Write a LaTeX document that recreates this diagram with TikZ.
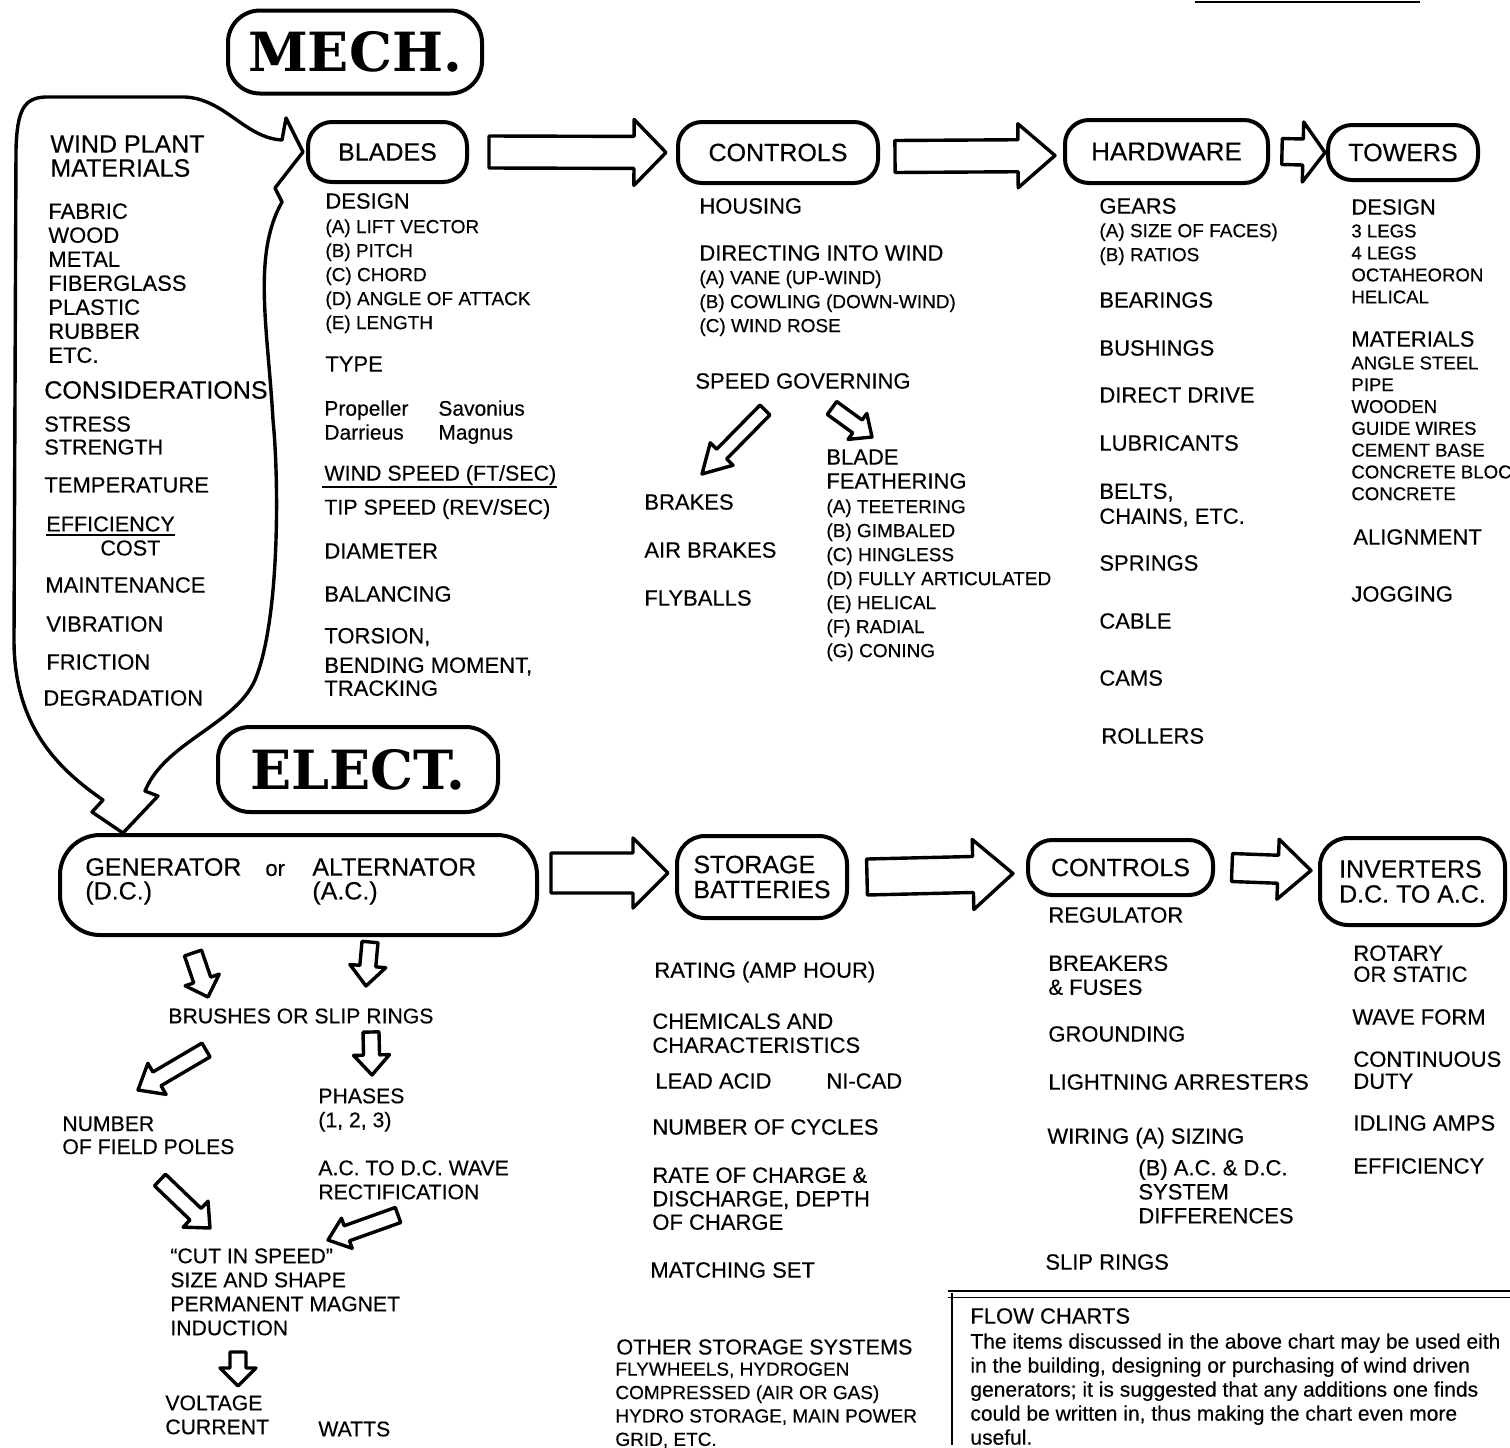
\documentclass[tikz,border=0pt]{standalone}
\usepackage{fontspec}
\setmainfont{Liberation Sans}[FakeBold=0.35]
\newfontfamily\titlefont{DejaVu Serif}
\usetikzlibrary{calc,positioning}
\newcommand\fsz[2]{\fontsize{#1}{#2}\selectfont}
% hollow block arrow: start, tip, body half width, head half width, head length
\newcommand\fatarrow[5]{%
  \coordinate (fab) at ($(#2)!#5!(#1)$);
  \draw[fat] ($(#1)!#3!90:(#2)$) -- ($(fab)!#3!90:(#2)$) -- ($(fab)!#4!90:(#2)$)
    -- (#2) -- ($(fab)!#4!-90:(#2)$) -- ($(fab)!#3!-90:(#2)$) -- ($(#1)!#3!-90:(#2)$) -- cycle;
}
\tikzset{
  box/.style={
    draw,
    line width=2pt,
    rounded corners=12pt,
    inner sep=0pt
  },
  fat/.style={
    line width=1.7pt,
    line join=round
  },
  feedline/.style={
    line width=1.7pt,
    line join=round
  },
  hd/.style={
    font=\fsz{12.5}{12.5}
  },
  ttl/.style={
    font=\titlefont\bfseries\fsz{27}{27}
  },
  itm/.style={
    anchor=west,
    inner sep=0pt,
    font=\fsz{11}{12}
  },
  blk/.style={
    anchor=north west,
    inner sep=0pt,
    align=left,
    font=\fsz{11}{12}
  },
  sml/.style={
    anchor=north west,
    inner sep=0pt,
    align=left,
    font=\fsz{9.5}{12}
  }
}
\begin{document}
\begin{tikzpicture}[x=0.5pt,y=-0.5pt]
        \useasboundingbox (0,0) rectangle (1510,1447);

        % boxes
        \node[box, ttl, minimum width=127pt, minimum height=41.5pt, rounded corners=16pt] (mech) at (355,52) {MECH.};
        \node[box, hd, minimum width=79.5pt, minimum height=30pt] (blades) at (387.5,152) {BLADES};
        \node[box, hd, minimum width=100pt, minimum height=30.5pt] (ctrl) at (778,152.5) {CONTROLS};
        \node[box, hd, font=\fsz{13}{13}, minimum width=101.5pt, minimum height=31.5pt] (hard) at (1166.5,151.5) {HARDWARE};
        \node[box, hd, minimum width=75pt, minimum height=27.5pt] (towers) at (1403,152.5) {TOWERS};
        \node[box, ttl, minimum width=140pt, minimum height=42.5pt, rounded corners=16pt] (elect) at (358,769.5) {ELECT.};
        \node[box, minimum width=238.5pt, minimum height=50pt, rounded corners=20pt] (gen) at (298.5,885) {};
        \node[box, hd, align=left, minimum width=85pt, minimum height=41pt, rounded corners=14pt] (stor) at (762,877) {STORAGE\\BATTERIES};
        \node[box, hd, minimum width=92.5pt, minimum height=27.5pt] (ctl2) at (1120.5,867.5) {CONTROLS};
        \node[box, hd, align=left, minimum width=92.5pt, minimum height=43.5pt, rounded corners=14pt] (inv) at (1412.5,881.5) {INVERTERS\\D.C. TO A.C.};

        % big arrows
        \coordinate (a1s) at ([xshift=10pt]blades.east);
        \coordinate (a1t) at ([xshift=-5pt]ctrl.west);
        \fatarrow{a1s}{a1t}{8pt}{16.5pt}{16pt}
        \coordinate (a2s) at ([xshift=7.5pt,yshift=-2pt]ctrl.east);
        \coordinate (a2t) at ([xshift=-4pt,yshift=-2pt]hard.west);
        \fatarrow{a2s}{a2t}{8pt}{16pt}{18.5pt}
        \coordinate (a3s) at ([xshift=6pt]hard.east);
        \coordinate (a3t) at ([xshift=-0.5pt]towers.west);
        \fatarrow{a3s}{a3t}{6.5pt}{15pt}{11pt}
        \coordinate (a4s) at ([xshift=6pt,yshift=6pt]gen.east);
        \coordinate (a4t) at ([xshift=-3.5pt,yshift=2pt]stor.west);
        \fatarrow{a4s}{a4t}{10pt}{17.5pt}{17.5pt}
        \coordinate (a5s) at ([xshift=9pt]stor.east);
        \coordinate (a5t) at ([xshift=-6.5pt,yshift=-3pt]ctl2.west);
        \fatarrow{a5s}{a5t}{9pt}{17.5pt}{20pt}
        \coordinate (a6s) at ([xshift=8.5pt]ctl2.east);
        \coordinate (a6t) at ([xshift=-3.5pt,yshift=5.5pt]inv.west);
        \fatarrow{a6s}{a6t}{7pt}{15pt}{16.5pt}

        % loop from the materials to blades and generator
        \coordinate (tipA) at ([xshift=-1.5pt]blades.west);
        \coordinate (tipB) at ([xshift=32.5pt]gen.north west);
        \draw[feedline] (tipA) -- (286,118) -- (282,140)
            .. controls (245,138) and (225,99) .. (185,97)
            -- (45,97)
            .. controls (24,98) and (17,110) .. (16,150)
            -- (14,640)
            .. controls (14,728) and (60,770) .. (103,800)
            -- (92,812) -- (tipB) -- (158,796) -- (145,791)
            .. controls (165,742) and (235,725) .. (255,680)
            .. controls (280,620) and (279,480) .. (273,420)
            .. controls (268,330) and (252,255) .. (282,202)
            -- (275,188) -- cycle;

        % small arrows
        \coordinate (s1s) at (765,410);
        \coordinate (s1t) at (702,474);
        \fatarrow{s1s}{s1t}{3.5pt}{8pt}{14pt}
        \coordinate (s2s) at (832,408);
        \coordinate (s2t) at (872,437);
        \fatarrow{s2s}{s2t}{4pt}{8pt}{9pt}
        \coordinate (g1s) at (193,953);
        \coordinate (g1t) at (208,997);
        \fatarrow{g1s}{g1t}{4.5pt}{9pt}{9pt}
        \coordinate (g2s) at (370,942);
        \coordinate (g2t) at (366,986);
        \fatarrow{g2s}{g2t}{4pt}{9pt}{10pt}
        \coordinate (b1s) at (206,1050);
        \coordinate (b1t) at (138,1090);
        \fatarrow{b1s}{b1t}{4pt}{9pt}{11pt}
        \coordinate (b2s) at (371,1032);
        \coordinate (b2t) at (372,1075);
        \fatarrow{b2s}{b2t}{4pt}{9pt}{10pt}
        \coordinate (n1s) at (160,1180);
        \coordinate (n1t) at (210,1228);
        \fatarrow{n1s}{n1t}{4pt}{9pt}{10pt}
        \coordinate (r1s) at (398,1215);
        \coordinate (r1t) at (328,1240);
        \fatarrow{r1s}{r1t}{4pt}{8pt}{10pt}
        \coordinate (i1s) at (238,1352);
        \coordinate (i1t) at (238,1386);
        \fatarrow{i1s}{i1t}{4pt}{9pt}{9pt}

        % wind plant materials
        \node[blk, font=\fsz{12.5}{12}] (wpm) at (50,135) {WIND PLANT\\MATERIALS};
        \node[blk] (mats) at (48,203) {FABRIC\\WOOD\\METAL\\FIBERGLASS\\PLASTIC\\RUBBER\\ETC.};
        \node[itm, font=\fsz{12.5}{12}] (cons) at (44,390) {CONSIDERATIONS};
        \node[blk, font=\fsz{10.8}{11.5}] (stress) at (44,416) {STRESS\\STRENGTH};
        \node[itm] (temp) at (44,485) {TEMPERATURE};
        \node[itm, font=\fsz{10.8}{12}] (eff) at (46,524) {EFFICIENCY};
        \node[itm, font=\fsz{10.8}{12}] (cost) at (100,548) {COST};
        \node[itm] (maint) at (45,585) {MAINTENANCE};
        \node[itm] (vib) at (46,624) {VIBRATION};
        \node[itm] (fric) at (46,662) {FRICTION};
        \node[itm] (degr) at (43,698) {DEGRADATION};
        \draw[line width=0.9pt] ([yshift=-1.5pt]eff.south west) -- ([yshift=-1.5pt]eff.south east);

        % blades
        \node[itm] (bdes) at (325,201) {DESIGN};
        \node[sml] (bdesl) at (325,219) {(A) LIFT VECTOR\\(B) PITCH\\(C) CHORD\\(D) ANGLE OF ATTACK\\(E) LENGTH};
        \node[itm] (btype) at (325,364) {TYPE};
        \node[blk, font=\fsz{10.5}{12}] (btyp1) at (324,400) {Propeller\\Darrieus};
        \node[blk, font=\fsz{10.5}{12}] (btyp2) at (438,400) {Savonius\\Magnus};
        \node[itm, font=\fsz{10.7}{12}] (wsp) at (324,475) {WIND SPEED (FT/SEC)};
        \node[itm, font=\fsz{10.7}{12}] (tsp) at (324,509) {TIP SPEED (REV/SEC)};
        \node[itm] (diam) at (324,551) {DIAMETER};
        \node[itm] (bal) at (324,594) {BALANCING};
        \node[itm] (tors) at (324,637) {TORSION,};
        \node[blk, font=\fsz{11}{11.5}] (bend) at (324,657) {BENDING MOMENT,\\TRACKING};
        \draw[line width=0.9pt] ([xshift=-1pt,yshift=-0.8pt]wsp.south west) -- ([yshift=-0.8pt]wsp.south east);

        % controls
        \node[itm] (hous) at (699,206) {HOUSING};
        \node[itm] (dir) at (699,253) {DIRECTING INTO WIND};
        \node[sml] (dirl) at (699,270) {(A) VANE (UP-WIND)\\(B) COWLING (DOWN-WIND)\\(C) WIND ROSE};
        \node[itm] (spg) at (695,381) {SPEED GOVERNING};
        \node[itm] (brk) at (644,502) {BRAKES};
        \node[itm] (abrk) at (644,550) {AIR BRAKES};
        \node[itm] (fly) at (644,598) {FLYBALLS};
        \node[blk] (feath) at (826,449) {BLADE\\FEATHERING};
        \node[sml] (feathl) at (826,499) {(A) TEETERING\\(B) GIMBALED\\(C) HINGLESS\\(D) FULLY ARTICULATED\\(E) HELICAL\\(F) RADIAL\\(G) CONING};

        % hardware
        \node[itm] (gears) at (1099,206) {GEARS};
        \node[sml] (gearl) at (1099,223) {(A) SIZE OF FACES)\\(B) RATIOS};
        \node[itm] (bear) at (1099,300) {BEARINGS};
        \node[itm] (bush) at (1099,348) {BUSHINGS};
        \node[itm] (ddrv) at (1099,395) {DIRECT DRIVE};
        \node[itm] (lubr) at (1099,443) {LUBRICANTS};
        \node[blk, font=\fsz{11}{12.5}] (belts) at (1099,483) {BELTS,\\CHAINS, ETC.};
        \node[itm] (spr) at (1099,563) {SPRINGS};
        \node[itm] (cable) at (1099,621) {CABLE};
        \node[itm] (cams) at (1099,678) {CAMS};
        \node[itm] (roll) at (1101,736) {ROLLERS};

        % towers
        \node[itm] (tdes) at (1351,207) {DESIGN};
        \node[blk, font=\fsz{9.3}{11}] (tdesl) at (1351,224) {3 LEGS\\4 LEGS\\OCTAHEORON\\HELICAL};
        \node[itm] (tmat) at (1351,339) {MATERIALS};
        \node[blk, font=\fsz{9.3}{10.9}] (tmatl) at (1351,356) {ANGLE STEEL\\PIPE\\WOODEN\\GUIDE WIRES\\CEMENT BASE\\CONCRETE BLOC\\CONCRETE};
        \node[itm] (align) at (1353,537) {ALIGNMENT};
        \node[itm] (jog) at (1351,594) {JOGGING};

        % generator
        \node[itm, font=\fsz{12.5}{12}] (genl) at (85,867) {GENERATOR};
        \node[itm, font=\fsz{11}{12}] (orl) at (265,870) {or};
        \node[itm, font=\fsz{12.5}{12}] (altl) at (312,867) {ALTERNATOR};
        \node[itm, font=\fsz{12.5}{12}] (dcl) at (85,893) {(D.C.)};
        \node[itm, font=\fsz{12.5}{12}] (acl) at (312,893) {(A.C.)};
        \node[itm, font=\fsz{10.6}{12}] (brush) at (168,1016) {BRUSHES OR SLIP RINGS};
        \node[blk, font=\fsz{10.6}{11.5}] (npol) at (62,1116) {NUMBER\\OF FIELD POLES};
        \node[blk, font=\fsz{10.6}{12}] (phas) at (318,1088) {PHASES\\(1, 2, 3)};
        \node[blk, font=\fsz{10.6}{12}] (rect) at (318,1160) {A.C. TO D.C. WAVE\\RECTIFICATION};
        \node[blk, font=\fsz{10.6}{12}] (cutin) at (170,1248) {“CUT IN SPEED”\\SIZE AND SHAPE\\PERMANENT MAGNET\\INDUCTION};
        \node[blk, font=\fsz{10.6}{12}] (volt) at (165,1395) {VOLTAGE\\CURRENT};
        \node[itm, font=\fsz{10.6}{12}] (watts) at (318,1429) {WATTS};

        % storage
        \node[itm] (rating) at (654,972) {RATING (AMP HOUR)};
        \node[blk] (chem) at (652,1013) {CHEMICALS AND\\CHARACTERISTICS};
        \node[itm] (lead) at (655,1081) {LEAD ACID};
        \node[itm] (nicad) at (826,1081) {NI-CAD};
        \node[itm] (ncyc) at (652,1127) {NUMBER OF CYCLES};
        \node[blk, font=\fsz{11}{11.75}] (rate) at (652,1167) {RATE OF CHARGE \&\\DISCHARGE, DEPTH\\OF CHARGE};
        \node[itm] (match) at (650,1270) {MATCHING SET};
        \node[itm, font=\fsz{10.8}{12}] (other) at (616,1347) {OTHER STORAGE SYSTEMS};
        \node[blk, font=\fsz{9.5}{11.7}] (otherl) at (615,1362) {FLYWHEELS, HYDROGEN\\COMPRESSED (AIR OR GAS)\\HYDRO STORAGE, MAIN POWER\\GRID, ETC.};

        % electric controls
        \node[itm] (reg) at (1048,915) {REGULATOR};
        \node[blk] (brkf) at (1048,955) {BREAKERS\\\& FUSES};
        \node[itm] (grnd) at (1048,1034) {GROUNDING};
        \node[itm] (light) at (1048,1082) {LIGHTNING ARRESTERS};
        \node[itm] (wir) at (1047,1138) {WIRING (A) SIZING};
        \node[blk] (wirb) at (1138,1159) {(B) A.C. \& D.C.\\SYSTEM\\DIFFERENCES};
        \node[itm] (slip) at (1045,1262) {SLIP RINGS};

        % inverters
        \node[blk, font=\fsz{11}{10.5}] (rot) at (1353,945) {ROTARY\\OR STATIC};
        \node[itm] (wave) at (1352,1017) {WAVE FORM};
        \node[blk, font=\fsz{11}{11}] (cont) at (1353,1051) {CONTINUOUS\\DUTY};
        \node[itm] (idle) at (1353,1123) {IDLING AMPS};
        \node[itm] (effi) at (1353,1166) {EFFICIENCY};

        % flow chart note
        \draw[line width=1.3pt] (948,1291) -- (1510,1291);
        \draw[line width=0.5pt] (948,1297) -- (1510,1297);
        \draw[line width=0.9pt] (952,1293) -- (952,1445);
        \node[itm] (flow) at (970,1316) {FLOW CHARTS};
        \node[blk, font=\fsz{10.5}{12}] (flowtxt) at (970,1333) {The items discussed in the above chart may be used eith\\in the building, designing or purchasing of wind driven\\generators; it is suggested that any additions one finds\\could be written in, thus making the chart even more\\useful.};
        \draw[line width=0.8pt] (1195,2) -- (1420,2);
\end{tikzpicture}
\end{document}
